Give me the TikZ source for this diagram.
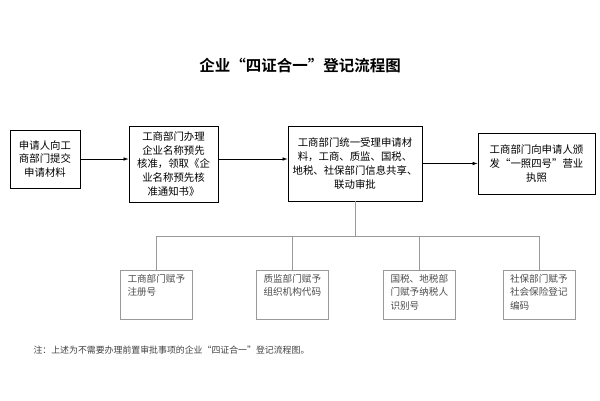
\documentclass[tikz,border=0pt]{standalone}
\usepackage{fontspec}
\setmainfont{Noto Sans CJK SC}[BoldFont={Noto Sans CJK SC Bold}]
\usetikzlibrary{arrows.meta}
% text of the lower boxes sits at the top, left aligned
\newcommand{\subtext}[1]{\parbox[c][40pt][t]{58pt}{\raggedright #1}}

\begin{document}
\begin{tikzpicture}[x=1pt,y=-1pt,
	mainbox/.style={draw, line width=0.8pt, align=center, inner sep=2pt, font=\fontsize{10.4}{13.8}\selectfont},
	subbox/.style={draw=gray!80, line width=0.6pt, text=black!70, inner xsep=7pt, inner ysep=4.5pt, font=\fontsize{9.6}{13.3}\selectfont},
	arr/.style={-{Latex[length=5pt,width=3.5pt]}, line width=0.6pt}]
\useasboundingbox (0,0) rectangle (600,400);

\node[font=\fontsize{15.5}{18}\bfseries\selectfont] (title) at (300,66) {企业“四证合一”登记流程图};

% upper row
\node[mainbox, minimum width=70, minimum height=58] (main1) at (45,159) {申请人向工\\商部门提交\\申请材料};
\node[mainbox, minimum width=89, minimum height=76] (main2) at (173.5,164) {工商部门办理\\企业名称预先\\核准，领取《企\\业名称预先核\\准通知书》};
\node[mainbox, minimum width=134, minimum height=75] (main3) at (355,163.5) {工商部门统一受理申请材\\料，工商、质监、国税、\\地税、社保部门信息共享、\\联动审批};
\node[mainbox, minimum width=117, minimum height=61] (main4) at (536.5,163.5) {工商部门向申请人颁\\发“一照四号”营业\\执照};

\draw[arr] (main1.east) -- (main1.east -| main2.west);
\draw[arr] (main2.east |- main1.east) -- (main1.east -| main3.west);
\draw[arr] (main3.east) -- (main3.east -| main4.west);

% lower row
\node[subbox] (sub1) at (156.5,294.5) {\subtext{工商部门赋予\\注册号}};
\node[subbox] (sub2) at (292.5,294.5) {\subtext{质监部门赋予\\组织机构代码}};
\node[subbox] (sub3) at (419.5,294.5) {\subtext{国税、地税部\\门赋予纳税人\\识别号}};
\node[subbox] (sub4) at (539,294.5) {\subtext{社保部门赋予\\社会保险登记\\编码}};

\coordinate (bus) at (358,236);
\draw[line width=0.6pt, gray!80] (main3.south) -- (main3.south |- bus);
\draw[line width=0.6pt, gray!80] (sub1.north) -- (sub1.north |- bus) -| (sub4.north);
\draw[line width=0.6pt, gray!80] (sub2.north) -- (sub2.north |- bus);
\draw[line width=0.6pt, gray!80] (sub3.north) -- (sub3.north |- bus);

\node[anchor=west, text=black!75, font=\fontsize{8.9}{11}\selectfont] (note) at (30,350) {注：上述为不需要办理前置审批事项的企业“四证合一”登记流程图。};
\end{tikzpicture}
\end{document}
